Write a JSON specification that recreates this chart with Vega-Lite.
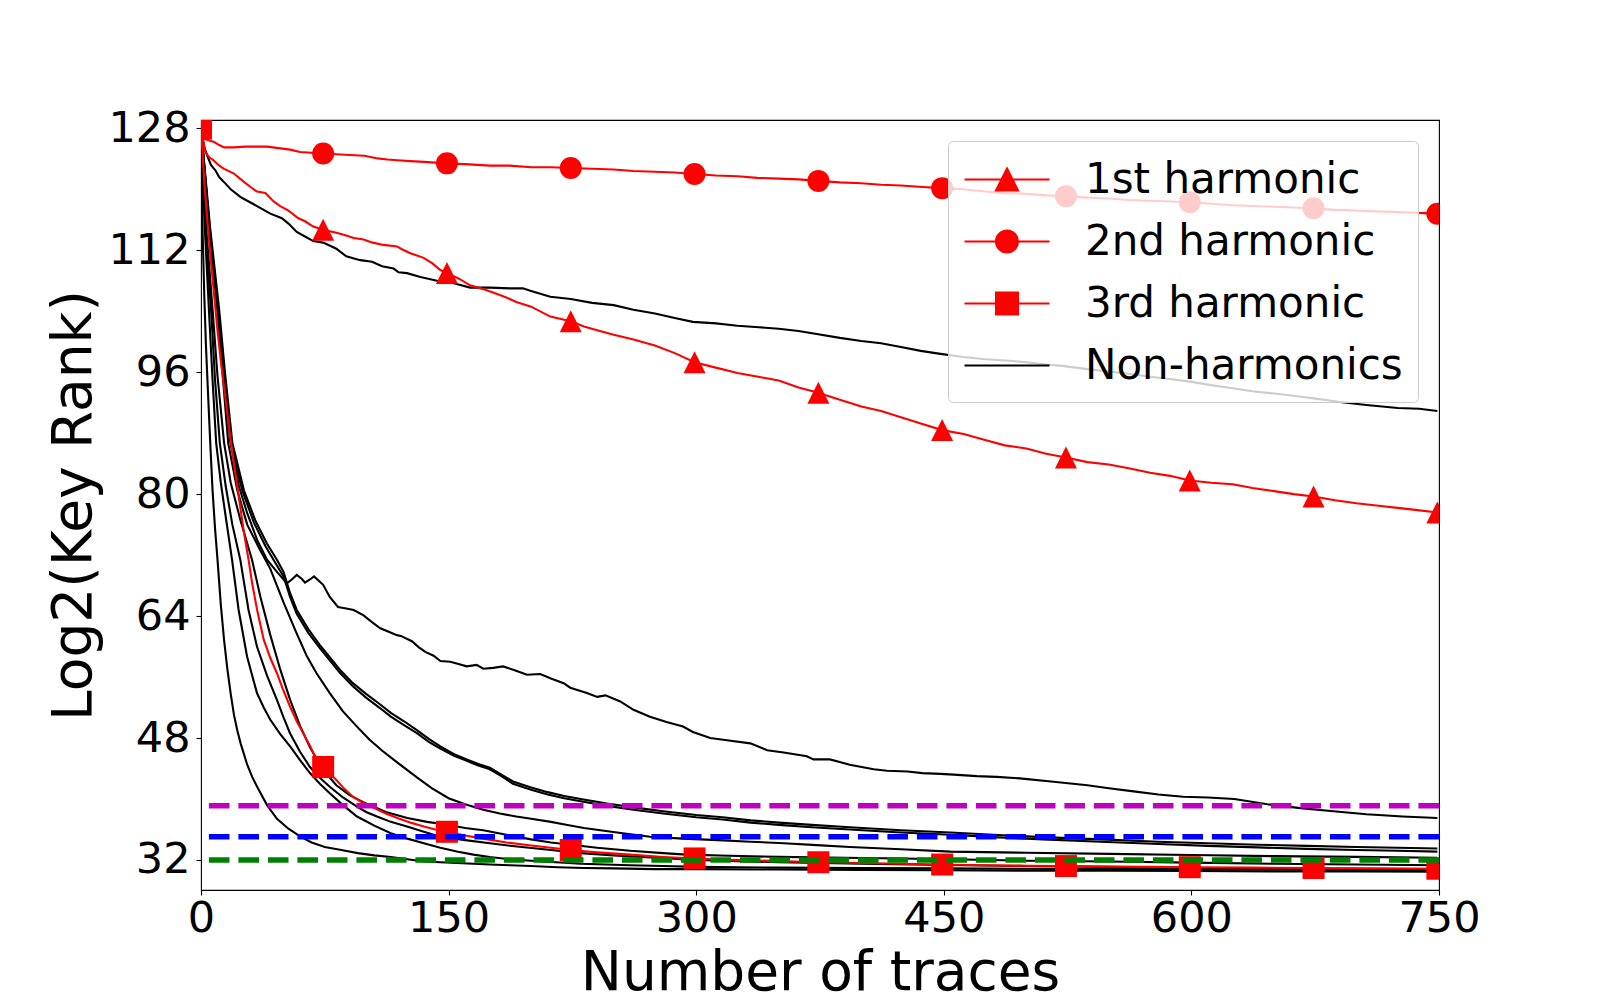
{
  "$schema": "https://vega.github.io/schema/vega-lite/v6.json",
  "width": 1238,
  "height": 770,
  "autosize": {"type": "none"},
  "padding": {"left": 201, "top": 120, "right": 161, "bottom": 110},
  "background": "white",
  "config": {
    "font": "DejaVu Sans",
    "view": {"stroke": "black", "strokeWidth": 1.1},
    "axis": {
      "domain": false,
      "grid": false,
      "tickColor": "black",
      "tickWidth": 1.1,
      "tickSize": 5,
      "labelColor": "black",
      "labelFont": "DejaVu Sans",
      "labelFontSize": 43,
      "titleFont": "DejaVu Sans",
      "titleFontSize": 55,
      "titleFontWeight": "normal",
      "titleColor": "black",
      "labelFlush": false,
      "labelOverlap": false,
      "labelBound": false
    }
  },
  "datasets": {
    "levels": [
      {"k": "upper", "y": 39.1},
      {"k": "middle", "y": 35.05},
      {"k": "lower", "y": 32.0}
    ],
    "curves": [
      {"s":"T","t":"Non-harmonics","x":0,"y":128},{"s":"T","t":"Non-harmonics","x":2,"y":125.5},{"s":"T","t":"Non-harmonics","x":4,"y":124.3},{"s":"T","t":"Non-harmonics","x":6,"y":123.2},{"s":"T","t":"Non-harmonics","x":8.7,"y":122.5},{"s":"T","t":"Non-harmonics","x":11,"y":121.6},{"s":"T","t":"Non-harmonics","x":13.7,"y":121.0},{"s":"T","t":"Non-harmonics","x":18,"y":120.0},{"s":"T","t":"Non-harmonics","x":23.8,"y":119.0},{"s":"T","t":"Non-harmonics","x":28,"y":118.5},{"s":"T","t":"Non-harmonics","x":33.9,"y":117.8},{"s":"T","t":"Non-harmonics","x":38,"y":117.3},{"s":"T","t":"Non-harmonics","x":42,"y":116.8},{"s":"T","t":"Non-harmonics","x":49,"y":116.2},{"s":"T","t":"Non-harmonics","x":53,"y":115.5},{"s":"T","t":"Non-harmonics","x":58,"y":114.4},{"s":"T","t":"Non-harmonics","x":63,"y":113.8},{"s":"T","t":"Non-harmonics","x":68,"y":113.2},{"s":"T","t":"Non-harmonics","x":74,"y":113.0},{"s":"T","t":"Non-harmonics","x":82,"y":112.2},{"s":"T","t":"Non-harmonics","x":88,"y":111.2},{"s":"T","t":"Non-harmonics","x":96.5,"y":110.7},{"s":"T","t":"Non-harmonics","x":103.6,"y":110.5},{"s":"T","t":"Non-harmonics","x":109.7,"y":109.9},{"s":"T","t":"Non-harmonics","x":116.7,"y":109.6},{"s":"T","t":"Non-harmonics","x":119.7,"y":109.1},{"s":"T","t":"Non-harmonics","x":124.8,"y":109.0},{"s":"T","t":"Non-harmonics","x":132.9,"y":108.5},{"s":"T","t":"Non-harmonics","x":143,"y":108.0},{"s":"T","t":"Non-harmonics","x":149,"y":107.9},{"s":"T","t":"Non-harmonics","x":156,"y":107.5},{"s":"T","t":"Non-harmonics","x":163,"y":107.1},{"s":"T","t":"Non-harmonics","x":175,"y":107.1},{"s":"T","t":"Non-harmonics","x":187,"y":107.0},{"s":"T","t":"Non-harmonics","x":195,"y":107.0},{"s":"T","t":"Non-harmonics","x":199.5,"y":106.7},{"s":"T","t":"Non-harmonics","x":211.6,"y":105.9},{"s":"T","t":"Non-harmonics","x":224,"y":105.6},{"s":"T","t":"Non-harmonics","x":237,"y":105.1},{"s":"T","t":"Non-harmonics","x":250,"y":104.8},{"s":"T","t":"Non-harmonics","x":262,"y":104.2},{"s":"T","t":"Non-harmonics","x":275,"y":103.7},{"s":"T","t":"Non-harmonics","x":287,"y":103.1},{"s":"T","t":"Non-harmonics","x":298,"y":102.6},{"s":"T","t":"Non-harmonics","x":312,"y":102.4},{"s":"T","t":"Non-harmonics","x":325,"y":102.1},{"s":"T","t":"Non-harmonics","x":338,"y":101.9},{"s":"T","t":"Non-harmonics","x":350,"y":101.7},{"s":"T","t":"Non-harmonics","x":362,"y":101.4},{"s":"T","t":"Non-harmonics","x":373,"y":101.0},{"s":"T","t":"Non-harmonics","x":387,"y":100.5},{"s":"T","t":"Non-harmonics","x":400,"y":100.1},{"s":"T","t":"Non-harmonics","x":412,"y":99.8},{"s":"T","t":"Non-harmonics","x":424,"y":99.3},{"s":"T","t":"Non-harmonics","x":436,"y":98.8},{"s":"T","t":"Non-harmonics","x":448,"y":98.4},{"s":"T","t":"Non-harmonics","x":462,"y":98.0},{"s":"T","t":"Non-harmonics","x":475,"y":97.7},{"s":"T","t":"Non-harmonics","x":490,"y":97.5},{"s":"T","t":"Non-harmonics","x":500,"y":97.3},{"s":"T","t":"Non-harmonics","x":512,"y":97.0},{"s":"T","t":"Non-harmonics","x":523,"y":96.8},{"s":"T","t":"Non-harmonics","x":537,"y":96.4},{"s":"T","t":"Non-harmonics","x":550,"y":96.1},{"s":"T","t":"Non-harmonics","x":562,"y":95.8},{"s":"T","t":"Non-harmonics","x":575,"y":95.4},{"s":"T","t":"Non-harmonics","x":587,"y":95.1},{"s":"T","t":"Non-harmonics","x":598,"y":94.8},{"s":"T","t":"Non-harmonics","x":612,"y":94.3},{"s":"T","t":"Non-harmonics","x":625,"y":93.9},{"s":"T","t":"Non-harmonics","x":637,"y":93.5},{"s":"T","t":"Non-harmonics","x":650,"y":93.2},{"s":"T","t":"Non-harmonics","x":662,"y":92.9},{"s":"T","t":"Non-harmonics","x":673,"y":92.6},{"s":"T","t":"Non-harmonics","x":690,"y":92.1},{"s":"T","t":"Non-harmonics","x":706,"y":91.7},{"s":"T","t":"Non-harmonics","x":725,"y":91.3},{"s":"T","t":"Non-harmonics","x":738,"y":91.2},{"s":"T","t":"Non-harmonics","x":749,"y":90.9},
      {"s":"a","t":"Non-harmonics","x":0,"y":128},{"s":"a","t":"Non-harmonics","x":1,"y":114},{"s":"a","t":"Non-harmonics","x":2,"y":106},{"s":"a","t":"Non-harmonics","x":3,"y":99.5},{"s":"a","t":"Non-harmonics","x":4,"y":94.5},{"s":"a","t":"Non-harmonics","x":5.6,"y":86.7},{"s":"a","t":"Non-harmonics","x":7,"y":80.5},{"s":"a","t":"Non-harmonics","x":8.5,"y":75.5},{"s":"a","t":"Non-harmonics","x":10,"y":71.4},{"s":"a","t":"Non-harmonics","x":12,"y":65.5},{"s":"a","t":"Non-harmonics","x":14,"y":60.8},{"s":"a","t":"Non-harmonics","x":16,"y":57},{"s":"a","t":"Non-harmonics","x":18,"y":53.8},{"s":"a","t":"Non-harmonics","x":20,"y":51},{"s":"a","t":"Non-harmonics","x":22,"y":49},{"s":"a","t":"Non-harmonics","x":24,"y":47.3},{"s":"a","t":"Non-harmonics","x":28,"y":44.5},{"s":"a","t":"Non-harmonics","x":31,"y":42.9},{"s":"a","t":"Non-harmonics","x":34,"y":41.6},{"s":"a","t":"Non-harmonics","x":40,"y":39.2},{"s":"a","t":"Non-harmonics","x":46,"y":37.4},{"s":"a","t":"Non-harmonics","x":53,"y":36.1},{"s":"a","t":"Non-harmonics","x":60,"y":35.1},{"s":"a","t":"Non-harmonics","x":67,"y":34.3},{"s":"a","t":"Non-harmonics","x":75,"y":33.7},{"s":"a","t":"Non-harmonics","x":85,"y":33.3},{"s":"a","t":"Non-harmonics","x":95,"y":32.9},{"s":"a","t":"Non-harmonics","x":105,"y":32.6},{"s":"a","t":"Non-harmonics","x":115,"y":32.4},{"s":"a","t":"Non-harmonics","x":125,"y":32.1},{"s":"a","t":"Non-harmonics","x":135,"y":31.8},{"s":"a","t":"Non-harmonics","x":145,"y":31.7},{"s":"a","t":"Non-harmonics","x":155,"y":31.6},{"s":"a","t":"Non-harmonics","x":165,"y":31.5},{"s":"a","t":"Non-harmonics","x":175,"y":31.4},{"s":"a","t":"Non-harmonics","x":187,"y":31.3},{"s":"a","t":"Non-harmonics","x":200,"y":31.2},{"s":"a","t":"Non-harmonics","x":216,"y":31.05},{"s":"a","t":"Non-harmonics","x":232,"y":30.95},{"s":"a","t":"Non-harmonics","x":250,"y":30.9},{"s":"a","t":"Non-harmonics","x":275,"y":30.8},{"s":"a","t":"Non-harmonics","x":300,"y":30.8},{"s":"a","t":"Non-harmonics","x":350,"y":30.75},{"s":"a","t":"Non-harmonics","x":400,"y":30.7},{"s":"a","t":"Non-harmonics","x":450,"y":30.65},{"s":"a","t":"Non-harmonics","x":500,"y":30.6},{"s":"a","t":"Non-harmonics","x":550,"y":30.6},{"s":"a","t":"Non-harmonics","x":600,"y":30.55},{"s":"a","t":"Non-harmonics","x":650,"y":30.5},{"s":"a","t":"Non-harmonics","x":700,"y":30.5},{"s":"a","t":"Non-harmonics","x":749,"y":30.45},
      {"s":"b","t":"Non-harmonics","x":0,"y":128},{"s":"b","t":"Non-harmonics","x":2.4,"y":114.5},{"s":"b","t":"Non-harmonics","x":4.8,"y":104.2},{"s":"b","t":"Non-harmonics","x":7,"y":95},{"s":"b","t":"Non-harmonics","x":9.2,"y":86.7},{"s":"b","t":"Non-harmonics","x":12,"y":81.5},{"s":"b","t":"Non-harmonics","x":15,"y":77},{"s":"b","t":"Non-harmonics","x":18.8,"y":71.4},{"s":"b","t":"Non-harmonics","x":22.8,"y":64.8},{"s":"b","t":"Non-harmonics","x":27.9,"y":58.7},{"s":"b","t":"Non-harmonics","x":33.9,"y":53.9},{"s":"b","t":"Non-harmonics","x":38,"y":52},{"s":"b","t":"Non-harmonics","x":42,"y":50.4},{"s":"b","t":"Non-harmonics","x":48,"y":48.5},{"s":"b","t":"Non-harmonics","x":54,"y":46.9},{"s":"b","t":"Non-harmonics","x":60,"y":45.1},{"s":"b","t":"Non-harmonics","x":66,"y":43.4},{"s":"b","t":"Non-harmonics","x":72,"y":42},{"s":"b","t":"Non-harmonics","x":78,"y":40.75},{"s":"b","t":"Non-harmonics","x":86,"y":39.2},{"s":"b","t":"Non-harmonics","x":94.5,"y":37.7},{"s":"b","t":"Non-harmonics","x":105,"y":36.5},{"s":"b","t":"Non-harmonics","x":115,"y":35.5},{"s":"b","t":"Non-harmonics","x":125,"y":34.8},{"s":"b","t":"Non-harmonics","x":135,"y":34.2},{"s":"b","t":"Non-harmonics","x":145,"y":33.6},{"s":"b","t":"Non-harmonics","x":155,"y":33.1},{"s":"b","t":"Non-harmonics","x":165,"y":32.7},{"s":"b","t":"Non-harmonics","x":175,"y":32.4},{"s":"b","t":"Non-harmonics","x":187,"y":32.1},{"s":"b","t":"Non-harmonics","x":200,"y":31.9},{"s":"b","t":"Non-harmonics","x":215,"y":31.7},{"s":"b","t":"Non-harmonics","x":230,"y":31.5},{"s":"b","t":"Non-harmonics","x":245,"y":31.4},{"s":"b","t":"Non-harmonics","x":260,"y":31.3},{"s":"b","t":"Non-harmonics","x":280,"y":31.2},{"s":"b","t":"Non-harmonics","x":300,"y":31.1},{"s":"b","t":"Non-harmonics","x":350,"y":31.0},{"s":"b","t":"Non-harmonics","x":400,"y":30.95},{"s":"b","t":"Non-harmonics","x":450,"y":30.9},{"s":"b","t":"Non-harmonics","x":500,"y":30.85},{"s":"b","t":"Non-harmonics","x":550,"y":30.8},{"s":"b","t":"Non-harmonics","x":600,"y":30.8},{"s":"b","t":"Non-harmonics","x":650,"y":30.75},{"s":"b","t":"Non-harmonics","x":700,"y":30.7},{"s":"b","t":"Non-harmonics","x":749,"y":30.7},
      {"s":"c","t":"Non-harmonics","x":0,"y":128},{"s":"c","t":"Non-harmonics","x":3,"y":113.5},{"s":"c","t":"Non-harmonics","x":6.1,"y":104.2},{"s":"c","t":"Non-harmonics","x":8.5,"y":95},{"s":"c","t":"Non-harmonics","x":11.4,"y":86.7},{"s":"c","t":"Non-harmonics","x":15,"y":81},{"s":"c","t":"Non-harmonics","x":19,"y":76},{"s":"c","t":"Non-harmonics","x":23.8,"y":71.4},{"s":"c","t":"Non-harmonics","x":28.8,"y":64.8},{"s":"c","t":"Non-harmonics","x":33.9,"y":60},{"s":"c","t":"Non-harmonics","x":40,"y":56.2},{"s":"c","t":"Non-harmonics","x":46,"y":53},{"s":"c","t":"Non-harmonics","x":50,"y":50.7},{"s":"c","t":"Non-harmonics","x":54,"y":48.6},{"s":"c","t":"Non-harmonics","x":60,"y":46.2},{"s":"c","t":"Non-harmonics","x":66,"y":44.2},{"s":"c","t":"Non-harmonics","x":72,"y":42.8},{"s":"c","t":"Non-harmonics","x":78,"y":41.6},{"s":"c","t":"Non-harmonics","x":86,"y":40.2},{"s":"c","t":"Non-harmonics","x":94.5,"y":39.0},{"s":"c","t":"Non-harmonics","x":100,"y":38.3},{"s":"c","t":"Non-harmonics","x":106.6,"y":37.7},{"s":"c","t":"Non-harmonics","x":115,"y":37.0},{"s":"c","t":"Non-harmonics","x":124.8,"y":36.4},{"s":"c","t":"Non-harmonics","x":135,"y":35.7},{"s":"c","t":"Non-harmonics","x":145,"y":35.05},{"s":"c","t":"Non-harmonics","x":160,"y":34.6},{"s":"c","t":"Non-harmonics","x":175,"y":34.2},{"s":"c","t":"Non-harmonics","x":190,"y":33.8},{"s":"c","t":"Non-harmonics","x":212,"y":33.3},{"s":"c","t":"Non-harmonics","x":230,"y":32.9},{"s":"c","t":"Non-harmonics","x":250,"y":32.6},{"s":"c","t":"Non-harmonics","x":275,"y":32.3},{"s":"c","t":"Non-harmonics","x":300,"y":32.0},{"s":"c","t":"Non-harmonics","x":325,"y":31.85},{"s":"c","t":"Non-harmonics","x":350,"y":31.7},{"s":"c","t":"Non-harmonics","x":400,"y":31.5},{"s":"c","t":"Non-harmonics","x":450,"y":31.35},{"s":"c","t":"Non-harmonics","x":500,"y":31.2},{"s":"c","t":"Non-harmonics","x":550,"y":31.1},{"s":"c","t":"Non-harmonics","x":600,"y":30.95},{"s":"c","t":"Non-harmonics","x":650,"y":30.85},{"s":"c","t":"Non-harmonics","x":700,"y":30.8},{"s":"c","t":"Non-harmonics","x":749,"y":30.75},
      {"s":"g","t":"Non-harmonics","x":0,"y":128},{"s":"g","t":"Non-harmonics","x":3.5,"y":114},{"s":"g","t":"Non-harmonics","x":7,"y":104.2},{"s":"g","t":"Non-harmonics","x":10,"y":95.5},{"s":"g","t":"Non-harmonics","x":14,"y":86.7},{"s":"g","t":"Non-harmonics","x":18,"y":81.5},{"s":"g","t":"Non-harmonics","x":24,"y":76.5},{"s":"g","t":"Non-harmonics","x":30.9,"y":71.4},{"s":"g","t":"Non-harmonics","x":36,"y":66.5},{"s":"g","t":"Non-harmonics","x":42,"y":61.5},{"s":"g","t":"Non-harmonics","x":48,"y":57},{"s":"g","t":"Non-harmonics","x":54,"y":53},{"s":"g","t":"Non-harmonics","x":60,"y":49.6},{"s":"g","t":"Non-harmonics","x":66,"y":46.8},{"s":"g","t":"Non-harmonics","x":74,"y":43.8},{"s":"g","t":"Non-harmonics","x":82,"y":41.8},{"s":"g","t":"Non-harmonics","x":90,"y":40.5},{"s":"g","t":"Non-harmonics","x":100,"y":39.4},{"s":"g","t":"Non-harmonics","x":112,"y":38.3},{"s":"g","t":"Non-harmonics","x":125,"y":37.5},{"s":"g","t":"Non-harmonics","x":137,"y":37.0},{"s":"g","t":"Non-harmonics","x":150,"y":36.6},{"s":"g","t":"Non-harmonics","x":160,"y":36.2},{"s":"g","t":"Non-harmonics","x":171,"y":35.9},{"s":"g","t":"Non-harmonics","x":185,"y":35.3},{"s":"g","t":"Non-harmonics","x":200,"y":34.7},{"s":"g","t":"Non-harmonics","x":212,"y":34.3},{"s":"g","t":"Non-harmonics","x":224,"y":34.0},{"s":"g","t":"Non-harmonics","x":240,"y":33.6},{"s":"g","t":"Non-harmonics","x":260,"y":33.2},{"s":"g","t":"Non-harmonics","x":280,"y":32.9},{"s":"g","t":"Non-harmonics","x":294,"y":32.7},{"s":"g","t":"Non-harmonics","x":320,"y":32.55},{"s":"g","t":"Non-harmonics","x":350,"y":32.4},{"s":"g","t":"Non-harmonics","x":390,"y":32.3},{"s":"g","t":"Non-harmonics","x":424,"y":32.2},{"s":"g","t":"Non-harmonics","x":454,"y":32.1},{"s":"g","t":"Non-harmonics","x":500,"y":31.9},{"s":"g","t":"Non-harmonics","x":550,"y":31.8},{"s":"g","t":"Non-harmonics","x":600,"y":31.65},{"s":"g","t":"Non-harmonics","x":650,"y":31.5},{"s":"g","t":"Non-harmonics","x":700,"y":31.4},{"s":"g","t":"Non-harmonics","x":749,"y":31.3},
      {"s":"d","t":"Non-harmonics","x":0,"y":128},{"s":"d","t":"Non-harmonics","x":5,"y":115},{"s":"d","t":"Non-harmonics","x":10,"y":104.2},{"s":"d","t":"Non-harmonics","x":13,"y":96},{"s":"d","t":"Non-harmonics","x":16.5,"y":86.7},{"s":"d","t":"Non-harmonics","x":22,"y":80.5},{"s":"d","t":"Non-harmonics","x":28,"y":76},{"s":"d","t":"Non-harmonics","x":35,"y":73},{"s":"d","t":"Non-harmonics","x":42,"y":70.2},{"s":"d","t":"Non-harmonics","x":50,"y":65.8},{"s":"d","t":"Non-harmonics","x":58,"y":61.7},{"s":"d","t":"Non-harmonics","x":64,"y":58.8},{"s":"d","t":"Non-harmonics","x":70,"y":56.5},{"s":"d","t":"Non-harmonics","x":78,"y":53.9},{"s":"d","t":"Non-harmonics","x":86,"y":51.5},{"s":"d","t":"Non-harmonics","x":94.5,"y":49.5},{"s":"d","t":"Non-harmonics","x":102,"y":47.8},{"s":"d","t":"Non-harmonics","x":110,"y":46.3},{"s":"d","t":"Non-harmonics","x":120,"y":44.6},{"s":"d","t":"Non-harmonics","x":131,"y":42.8},{"s":"d","t":"Non-harmonics","x":140,"y":41.4},{"s":"d","t":"Non-harmonics","x":150,"y":40.1},{"s":"d","t":"Non-harmonics","x":160,"y":39.3},{"s":"d","t":"Non-harmonics","x":171,"y":38.6},{"s":"d","t":"Non-harmonics","x":181,"y":38.1},{"s":"d","t":"Non-harmonics","x":191,"y":37.7},{"s":"d","t":"Non-harmonics","x":200,"y":37.4},{"s":"d","t":"Non-harmonics","x":212,"y":37.0},{"s":"d","t":"Non-harmonics","x":222,"y":36.6},{"s":"d","t":"Non-harmonics","x":232,"y":36.2},{"s":"d","t":"Non-harmonics","x":252,"y":35.6},{"s":"d","t":"Non-harmonics","x":272,"y":35.05},{"s":"d","t":"Non-harmonics","x":292,"y":34.8},{"s":"d","t":"Non-harmonics","x":313,"y":34.6},{"s":"d","t":"Non-harmonics","x":333,"y":34.4},{"s":"d","t":"Non-harmonics","x":353,"y":34.2},{"s":"d","t":"Non-harmonics","x":373,"y":33.95},{"s":"d","t":"Non-harmonics","x":393,"y":33.7},{"s":"d","t":"Non-harmonics","x":424,"y":33.4},{"s":"d","t":"Non-harmonics","x":454,"y":33.1},{"s":"d","t":"Non-harmonics","x":500,"y":32.95},{"s":"d","t":"Non-harmonics","x":550,"y":32.8},{"s":"d","t":"Non-harmonics","x":600,"y":32.65},{"s":"d","t":"Non-harmonics","x":650,"y":32.5},{"s":"d","t":"Non-harmonics","x":700,"y":32.4},{"s":"d","t":"Non-harmonics","x":749,"y":32.3},
      {"s":"e","t":"Non-harmonics","x":0,"y":128},{"s":"e","t":"Non-harmonics","x":5.5,"y":115},{"s":"e","t":"Non-harmonics","x":11,"y":104.2},{"s":"e","t":"Non-harmonics","x":14.5,"y":96},{"s":"e","t":"Non-harmonics","x":19,"y":86.7},{"s":"e","t":"Non-harmonics","x":26,"y":80.5},{"s":"e","t":"Non-harmonics","x":33,"y":76.5},{"s":"e","t":"Non-harmonics","x":40,"y":73.5},{"s":"e","t":"Non-harmonics","x":46,"y":71.4},{"s":"e","t":"Non-harmonics","x":50,"y":69.8},{"s":"e","t":"Non-harmonics","x":54,"y":67},{"s":"e","t":"Non-harmonics","x":58,"y":64.8},{"s":"e","t":"Non-harmonics","x":65,"y":62.3},{"s":"e","t":"Non-harmonics","x":72,"y":60.2},{"s":"e","t":"Non-harmonics","x":78,"y":58.6},{"s":"e","t":"Non-harmonics","x":84,"y":57.0},{"s":"e","t":"Non-harmonics","x":92,"y":55.2},{"s":"e","t":"Non-harmonics","x":100,"y":53.8},{"s":"e","t":"Non-harmonics","x":108,"y":52.5},{"s":"e","t":"Non-harmonics","x":115,"y":51.3},{"s":"e","t":"Non-harmonics","x":123,"y":50.2},{"s":"e","t":"Non-harmonics","x":131,"y":49.0},{"s":"e","t":"Non-harmonics","x":138,"y":47.9},{"s":"e","t":"Non-harmonics","x":145,"y":46.9},{"s":"e","t":"Non-harmonics","x":153,"y":45.9},{"s":"e","t":"Non-harmonics","x":161,"y":45.2},{"s":"e","t":"Non-harmonics","x":168,"y":44.6},{"s":"e","t":"Non-harmonics","x":175,"y":44.1},{"s":"e","t":"Non-harmonics","x":182,"y":43.2},{"s":"e","t":"Non-harmonics","x":189,"y":42.3},{"s":"e","t":"Non-harmonics","x":200,"y":41.5},{"s":"e","t":"Non-harmonics","x":210,"y":40.9},{"s":"e","t":"Non-harmonics","x":220,"y":40.4},{"s":"e","t":"Non-harmonics","x":230,"y":40.0},{"s":"e","t":"Non-harmonics","x":246,"y":39.4},{"s":"e","t":"Non-harmonics","x":262,"y":38.9},{"s":"e","t":"Non-harmonics","x":280,"y":38.4},{"s":"e","t":"Non-harmonics","x":300,"y":37.9},{"s":"e","t":"Non-harmonics","x":316,"y":37.6},{"s":"e","t":"Non-harmonics","x":333,"y":37.2},{"s":"e","t":"Non-harmonics","x":350,"y":36.9},{"s":"e","t":"Non-harmonics","x":370,"y":36.6},{"s":"e","t":"Non-harmonics","x":393,"y":36.3},{"s":"e","t":"Non-harmonics","x":424,"y":35.9},{"s":"e","t":"Non-harmonics","x":454,"y":35.6},{"s":"e","t":"Non-harmonics","x":480,"y":35.3},{"s":"e","t":"Non-harmonics","x":510,"y":35.0},{"s":"e","t":"Non-harmonics","x":545,"y":34.7},{"s":"e","t":"Non-harmonics","x":580,"y":34.4},{"s":"e","t":"Non-harmonics","x":610,"y":34.2},{"s":"e","t":"Non-harmonics","x":640,"y":34.0},{"s":"e","t":"Non-harmonics","x":670,"y":33.85},{"s":"e","t":"Non-harmonics","x":700,"y":33.7},{"s":"e","t":"Non-harmonics","x":725,"y":33.6},{"s":"e","t":"Non-harmonics","x":749,"y":33.5},
      {"s":"f","t":"Non-harmonics","x":0,"y":128},{"s":"f","t":"Non-harmonics","x":5.2,"y":115},{"s":"f","t":"Non-harmonics","x":10.5,"y":104.2},{"s":"f","t":"Non-harmonics","x":14,"y":96},{"s":"f","t":"Non-harmonics","x":18,"y":86.7},{"s":"f","t":"Non-harmonics","x":25,"y":80.5},{"s":"f","t":"Non-harmonics","x":32,"y":76.3},{"s":"f","t":"Non-harmonics","x":39,"y":73.2},{"s":"f","t":"Non-harmonics","x":45,"y":71.0},{"s":"f","t":"Non-harmonics","x":50,"y":69.2},{"s":"f","t":"Non-harmonics","x":54,"y":66.5},{"s":"f","t":"Non-harmonics","x":58,"y":64.3},{"s":"f","t":"Non-harmonics","x":65,"y":61.8},{"s":"f","t":"Non-harmonics","x":72,"y":59.8},{"s":"f","t":"Non-harmonics","x":78,"y":58.2},{"s":"f","t":"Non-harmonics","x":84,"y":56.6},{"s":"f","t":"Non-harmonics","x":92,"y":54.8},{"s":"f","t":"Non-harmonics","x":100,"y":53.3},{"s":"f","t":"Non-harmonics","x":108,"y":52.0},{"s":"f","t":"Non-harmonics","x":115,"y":50.8},{"s":"f","t":"Non-harmonics","x":123,"y":49.7},{"s":"f","t":"Non-harmonics","x":131,"y":48.6},{"s":"f","t":"Non-harmonics","x":138,"y":47.5},{"s":"f","t":"Non-harmonics","x":145,"y":46.6},{"s":"f","t":"Non-harmonics","x":153,"y":45.7},{"s":"f","t":"Non-harmonics","x":161,"y":45.0},{"s":"f","t":"Non-harmonics","x":168,"y":44.4},{"s":"f","t":"Non-harmonics","x":175,"y":43.9},{"s":"f","t":"Non-harmonics","x":182,"y":43.0},{"s":"f","t":"Non-harmonics","x":189,"y":42.0},{"s":"f","t":"Non-harmonics","x":200,"y":41.2},{"s":"f","t":"Non-harmonics","x":210,"y":40.6},{"s":"f","t":"Non-harmonics","x":220,"y":40.1},{"s":"f","t":"Non-harmonics","x":230,"y":39.7},{"s":"f","t":"Non-harmonics","x":246,"y":39.1},{"s":"f","t":"Non-harmonics","x":262,"y":38.6},{"s":"f","t":"Non-harmonics","x":280,"y":38.1},{"s":"f","t":"Non-harmonics","x":300,"y":37.6},{"s":"f","t":"Non-harmonics","x":316,"y":37.3},{"s":"f","t":"Non-harmonics","x":333,"y":36.9},{"s":"f","t":"Non-harmonics","x":350,"y":36.6},{"s":"f","t":"Non-harmonics","x":370,"y":36.3},{"s":"f","t":"Non-harmonics","x":393,"y":36.0},{"s":"f","t":"Non-harmonics","x":424,"y":35.6},{"s":"f","t":"Non-harmonics","x":454,"y":35.3},{"s":"f","t":"Non-harmonics","x":480,"y":35.0},{"s":"f","t":"Non-harmonics","x":510,"y":34.7},{"s":"f","t":"Non-harmonics","x":545,"y":34.4},{"s":"f","t":"Non-harmonics","x":580,"y":34.1},{"s":"f","t":"Non-harmonics","x":610,"y":33.85},{"s":"f","t":"Non-harmonics","x":640,"y":33.65},{"s":"f","t":"Non-harmonics","x":670,"y":33.45},{"s":"f","t":"Non-harmonics","x":700,"y":33.3},{"s":"f","t":"Non-harmonics","x":725,"y":33.2},{"s":"f","t":"Non-harmonics","x":749,"y":33.1},
      {"s":"p","t":"Non-harmonics","x":0,"y":128},{"s":"p","t":"Non-harmonics","x":5,"y":115},{"s":"p","t":"Non-harmonics","x":10,"y":104.2},{"s":"p","t":"Non-harmonics","x":13.5,"y":96},{"s":"p","t":"Non-harmonics","x":18,"y":86.7},{"s":"p","t":"Non-harmonics","x":23,"y":81},{"s":"p","t":"Non-harmonics","x":28,"y":77.5},{"s":"p","t":"Non-harmonics","x":34,"y":74},{"s":"p","t":"Non-harmonics","x":40,"y":71.4},{"s":"p","t":"Non-harmonics","x":46,"y":69.8},{"s":"p","t":"Non-harmonics","x":52,"y":68.3},{"s":"p","t":"Non-harmonics","x":55,"y":68.8},{"s":"p","t":"Non-harmonics","x":58,"y":69.4},{"s":"p","t":"Non-harmonics","x":61,"y":68.9},{"s":"p","t":"Non-harmonics","x":63,"y":68.4},{"s":"p","t":"Non-harmonics","x":66,"y":68.8},{"s":"p","t":"Non-harmonics","x":68.5,"y":69.2},{"s":"p","t":"Non-harmonics","x":71,"y":68.7},{"s":"p","t":"Non-harmonics","x":74,"y":68.1},{"s":"p","t":"Non-harmonics","x":78,"y":66.5},{"s":"p","t":"Non-harmonics","x":83,"y":65.2},{"s":"p","t":"Non-harmonics","x":88,"y":65.0},{"s":"p","t":"Non-harmonics","x":92.5,"y":64.8},{"s":"p","t":"Non-harmonics","x":98.5,"y":64.1},{"s":"p","t":"Non-harmonics","x":103,"y":63.3},{"s":"p","t":"Non-harmonics","x":108.6,"y":62.4},{"s":"p","t":"Non-harmonics","x":113,"y":62.0},{"s":"p","t":"Non-harmonics","x":118.7,"y":61.5},{"s":"p","t":"Non-harmonics","x":121,"y":61.4},{"s":"p","t":"Non-harmonics","x":127.8,"y":60.7},{"s":"p","t":"Non-harmonics","x":132,"y":59.9},{"s":"p","t":"Non-harmonics","x":135.9,"y":59.3},{"s":"p","t":"Non-harmonics","x":140.9,"y":58.8},{"s":"p","t":"Non-harmonics","x":145,"y":58.1},{"s":"p","t":"Non-harmonics","x":151,"y":58.0},{"s":"p","t":"Non-harmonics","x":156,"y":57.7},{"s":"p","t":"Non-harmonics","x":161,"y":57.4},{"s":"p","t":"Non-harmonics","x":167,"y":57.6},{"s":"p","t":"Non-harmonics","x":171,"y":57.1},{"s":"p","t":"Non-harmonics","x":177,"y":57.2},{"s":"p","t":"Non-harmonics","x":183,"y":57.4},{"s":"p","t":"Non-harmonics","x":190,"y":56.9},{"s":"p","t":"Non-harmonics","x":197.5,"y":56.3},{"s":"p","t":"Non-harmonics","x":205.5,"y":56.4},{"s":"p","t":"Non-harmonics","x":212,"y":55.8},{"s":"p","t":"Non-harmonics","x":219.7,"y":55.2},{"s":"p","t":"Non-harmonics","x":223.7,"y":54.6},{"s":"p","t":"Non-harmonics","x":233.8,"y":53.9},{"s":"p","t":"Non-harmonics","x":240,"y":53.4},{"s":"p","t":"Non-harmonics","x":245,"y":53.6},{"s":"p","t":"Non-harmonics","x":254,"y":52.8},{"s":"p","t":"Non-harmonics","x":262,"y":51.7},{"s":"p","t":"Non-harmonics","x":272,"y":50.8},{"s":"p","t":"Non-harmonics","x":282,"y":50.1},{"s":"p","t":"Non-harmonics","x":292,"y":49.5},{"s":"p","t":"Non-harmonics","x":298,"y":48.8},{"s":"p","t":"Non-harmonics","x":308.5,"y":48.0},{"s":"p","t":"Non-harmonics","x":318.6,"y":47.7},{"s":"p","t":"Non-harmonics","x":332.8,"y":47.3},{"s":"p","t":"Non-harmonics","x":343,"y":46.4},{"s":"p","t":"Non-harmonics","x":353,"y":46.1},{"s":"p","t":"Non-harmonics","x":367,"y":45.6},{"s":"p","t":"Non-harmonics","x":371,"y":45.2},{"s":"p","t":"Non-harmonics","x":381,"y":45.2},{"s":"p","t":"Non-harmonics","x":393,"y":44.5},{"s":"p","t":"Non-harmonics","x":407.5,"y":43.9},{"s":"p","t":"Non-harmonics","x":415.6,"y":43.7},{"s":"p","t":"Non-harmonics","x":428,"y":43.6},{"s":"p","t":"Non-harmonics","x":437,"y":43.4},{"s":"p","t":"Non-harmonics","x":448,"y":43.3},{"s":"p","t":"Non-harmonics","x":456,"y":43.2},{"s":"p","t":"Non-harmonics","x":470,"y":43.0},{"s":"p","t":"Non-harmonics","x":482,"y":42.9},{"s":"p","t":"Non-harmonics","x":496,"y":42.7},{"s":"p","t":"Non-harmonics","x":515,"y":42.3},{"s":"p","t":"Non-harmonics","x":537,"y":41.8},{"s":"p","t":"Non-harmonics","x":550,"y":41.4},{"s":"p","t":"Non-harmonics","x":565,"y":41.0},{"s":"p","t":"Non-harmonics","x":580,"y":40.6},{"s":"p","t":"Non-harmonics","x":595,"y":40.3},{"s":"p","t":"Non-harmonics","x":610,"y":40.2},{"s":"p","t":"Non-harmonics","x":626,"y":40.0},{"s":"p","t":"Non-harmonics","x":646,"y":39.3},{"s":"p","t":"Non-harmonics","x":666,"y":38.8},{"s":"p","t":"Non-harmonics","x":686,"y":38.4},{"s":"p","t":"Non-harmonics","x":706,"y":38.0},{"s":"p","t":"Non-harmonics","x":728,"y":37.7},{"s":"p","t":"Non-harmonics","x":749,"y":37.5},
      {"s":"R1","t":"1st harmonic","x":0,"y":128},{"s":"R1","t":"1st harmonic","x":2.6,"y":124.9},{"s":"R1","t":"1st harmonic","x":5,"y":124.2},{"s":"R1","t":"1st harmonic","x":7.6,"y":123.8},{"s":"R1","t":"1st harmonic","x":10.5,"y":123.2},{"s":"R1","t":"1st harmonic","x":13.7,"y":122.7},{"s":"R1","t":"1st harmonic","x":19.7,"y":122.1},{"s":"R1","t":"1st harmonic","x":25.8,"y":121.0},{"s":"R1","t":"1st harmonic","x":30,"y":120.3},{"s":"R1","t":"1st harmonic","x":33.9,"y":119.7},{"s":"R1","t":"1st harmonic","x":39,"y":119.5},{"s":"R1","t":"1st harmonic","x":44,"y":118.4},{"s":"R1","t":"1st harmonic","x":48,"y":117.8},{"s":"R1","t":"1st harmonic","x":53,"y":117.2},{"s":"R1","t":"1st harmonic","x":59,"y":116.2},{"s":"R1","t":"1st harmonic","x":63,"y":115.8},{"s":"R1","t":"1st harmonic","x":68,"y":115.1},{"s":"R1","t":"1st harmonic","x":74,"y":114.7},{"s":"R1","t":"1st harmonic","x":82,"y":114.3},{"s":"R1","t":"1st harmonic","x":87,"y":114.0},{"s":"R1","t":"1st harmonic","x":92.5,"y":113.6},{"s":"R1","t":"1st harmonic","x":98.5,"y":113.4},{"s":"R1","t":"1st harmonic","x":104,"y":113.0},{"s":"R1","t":"1st harmonic","x":110.6,"y":112.7},{"s":"R1","t":"1st harmonic","x":118.7,"y":112.5},{"s":"R1","t":"1st harmonic","x":122,"y":112.1},{"s":"R1","t":"1st harmonic","x":126.8,"y":111.6},{"s":"R1","t":"1st harmonic","x":134.9,"y":111.0},{"s":"R1","t":"1st harmonic","x":140,"y":110.3},{"s":"R1","t":"1st harmonic","x":145,"y":109.4},{"s":"R1","t":"1st harmonic","x":149,"y":109.0},{"s":"R1","t":"1st harmonic","x":156,"y":108.3},{"s":"R1","t":"1st harmonic","x":163,"y":107.4},{"s":"R1","t":"1st harmonic","x":171,"y":106.9},{"s":"R1","t":"1st harmonic","x":179,"y":106.3},{"s":"R1","t":"1st harmonic","x":185,"y":105.8},{"s":"R1","t":"1st harmonic","x":191,"y":105.2},{"s":"R1","t":"1st harmonic","x":200,"y":104.6},{"s":"R1","t":"1st harmonic","x":211.6,"y":103.3},{"s":"R1","t":"1st harmonic","x":224,"y":102.7},{"s":"R1","t":"1st harmonic","x":232,"y":102.0},{"s":"R1","t":"1st harmonic","x":240,"y":101.5},{"s":"R1","t":"1st harmonic","x":250,"y":100.9},{"s":"R1","t":"1st harmonic","x":262,"y":100.3},{"s":"R1","t":"1st harmonic","x":275,"y":99.5},{"s":"R1","t":"1st harmonic","x":287,"y":98.5},{"s":"R1","t":"1st harmonic","x":299,"y":97.3},{"s":"R1","t":"1st harmonic","x":310,"y":96.7},{"s":"R1","t":"1st harmonic","x":325,"y":95.9},{"s":"R1","t":"1st harmonic","x":340,"y":95.3},{"s":"R1","t":"1st harmonic","x":350,"y":94.9},{"s":"R1","t":"1st harmonic","x":362,"y":94.0},{"s":"R1","t":"1st harmonic","x":374,"y":93.3},{"s":"R1","t":"1st harmonic","x":387,"y":92.4},{"s":"R1","t":"1st harmonic","x":400,"y":91.5},{"s":"R1","t":"1st harmonic","x":412,"y":90.9},{"s":"R1","t":"1st harmonic","x":424,"y":90.1},{"s":"R1","t":"1st harmonic","x":437,"y":89.2},{"s":"R1","t":"1st harmonic","x":449,"y":88.4},{"s":"R1","t":"1st harmonic","x":462,"y":87.9},{"s":"R1","t":"1st harmonic","x":475,"y":87.1},{"s":"R1","t":"1st harmonic","x":487,"y":86.4},{"s":"R1","t":"1st harmonic","x":500,"y":86.0},{"s":"R1","t":"1st harmonic","x":512,"y":85.3},{"s":"R1","t":"1st harmonic","x":524,"y":84.8},{"s":"R1","t":"1st harmonic","x":537,"y":84.2},{"s":"R1","t":"1st harmonic","x":550,"y":83.9},{"s":"R1","t":"1st harmonic","x":562,"y":83.4},{"s":"R1","t":"1st harmonic","x":575,"y":82.8},{"s":"R1","t":"1st harmonic","x":587,"y":82.4},{"s":"R1","t":"1st harmonic","x":599,"y":81.8},{"s":"R1","t":"1st harmonic","x":612,"y":81.5},{"s":"R1","t":"1st harmonic","x":625,"y":81.3},{"s":"R1","t":"1st harmonic","x":637,"y":80.8},{"s":"R1","t":"1st harmonic","x":650,"y":80.4},{"s":"R1","t":"1st harmonic","x":662,"y":80.0},{"s":"R1","t":"1st harmonic","x":674,"y":79.7},{"s":"R1","t":"1st harmonic","x":687,"y":79.2},{"s":"R1","t":"1st harmonic","x":700,"y":78.8},{"s":"R1","t":"1st harmonic","x":712,"y":78.5},{"s":"R1","t":"1st harmonic","x":725,"y":78.2},{"s":"R1","t":"1st harmonic","x":737,"y":77.9},{"s":"R1","t":"1st harmonic","x":749,"y":77.6},
      {"s":"R2","t":"2nd harmonic","x":0,"y":128},{"s":"R2","t":"2nd harmonic","x":2,"y":126.6},{"s":"R2","t":"2nd harmonic","x":5,"y":126.4},{"s":"R2","t":"2nd harmonic","x":8,"y":126.2},{"s":"R2","t":"2nd harmonic","x":11,"y":125.8},{"s":"R2","t":"2nd harmonic","x":14,"y":125.5},{"s":"R2","t":"2nd harmonic","x":20,"y":125.5},{"s":"R2","t":"2nd harmonic","x":27,"y":125.6},{"s":"R2","t":"2nd harmonic","x":34,"y":125.6},{"s":"R2","t":"2nd harmonic","x":40,"y":125.6},{"s":"R2","t":"2nd harmonic","x":47,"y":125.4},{"s":"R2","t":"2nd harmonic","x":54,"y":125.2},{"s":"R2","t":"2nd harmonic","x":60,"y":124.9},{"s":"R2","t":"2nd harmonic","x":67,"y":124.8},{"s":"R2","t":"2nd harmonic","x":74,"y":124.7},{"s":"R2","t":"2nd harmonic","x":82,"y":124.6},{"s":"R2","t":"2nd harmonic","x":90,"y":124.5},{"s":"R2","t":"2nd harmonic","x":99,"y":124.4},{"s":"R2","t":"2nd harmonic","x":107,"y":124.05},{"s":"R2","t":"2nd harmonic","x":113,"y":123.9},{"s":"R2","t":"2nd harmonic","x":119,"y":123.8},{"s":"R2","t":"2nd harmonic","x":127,"y":123.7},{"s":"R2","t":"2nd harmonic","x":135,"y":123.6},{"s":"R2","t":"2nd harmonic","x":142,"y":123.5},{"s":"R2","t":"2nd harmonic","x":149,"y":123.4},{"s":"R2","t":"2nd harmonic","x":160,"y":123.3},{"s":"R2","t":"2nd harmonic","x":175,"y":123.1},{"s":"R2","t":"2nd harmonic","x":187,"y":123.1},{"s":"R2","t":"2nd harmonic","x":200,"y":122.9},{"s":"R2","t":"2nd harmonic","x":212,"y":122.9},{"s":"R2","t":"2nd harmonic","x":224,"y":122.8},{"s":"R2","t":"2nd harmonic","x":237,"y":122.7},{"s":"R2","t":"2nd harmonic","x":250,"y":122.6},{"s":"R2","t":"2nd harmonic","x":262,"y":122.4},{"s":"R2","t":"2nd harmonic","x":275,"y":122.3},{"s":"R2","t":"2nd harmonic","x":287,"y":122.2},{"s":"R2","t":"2nd harmonic","x":299,"y":122.0},{"s":"R2","t":"2nd harmonic","x":312,"y":121.8},{"s":"R2","t":"2nd harmonic","x":325,"y":121.7},{"s":"R2","t":"2nd harmonic","x":337,"y":121.5},{"s":"R2","t":"2nd harmonic","x":350,"y":121.4},{"s":"R2","t":"2nd harmonic","x":362,"y":121.3},{"s":"R2","t":"2nd harmonic","x":374,"y":121.1},{"s":"R2","t":"2nd harmonic","x":387,"y":120.9},{"s":"R2","t":"2nd harmonic","x":400,"y":120.8},{"s":"R2","t":"2nd harmonic","x":412,"y":120.6},{"s":"R2","t":"2nd harmonic","x":424,"y":120.5},{"s":"R2","t":"2nd harmonic","x":437,"y":120.3},{"s":"R2","t":"2nd harmonic","x":449,"y":120.15},{"s":"R2","t":"2nd harmonic","x":462,"y":120.0},{"s":"R2","t":"2nd harmonic","x":475,"y":119.7},{"s":"R2","t":"2nd harmonic","x":487,"y":119.5},{"s":"R2","t":"2nd harmonic","x":500,"y":119.4},{"s":"R2","t":"2nd harmonic","x":512,"y":119.2},{"s":"R2","t":"2nd harmonic","x":524,"y":119.1},{"s":"R2","t":"2nd harmonic","x":537,"y":118.9},{"s":"R2","t":"2nd harmonic","x":550,"y":118.8},{"s":"R2","t":"2nd harmonic","x":562,"y":118.6},{"s":"R2","t":"2nd harmonic","x":575,"y":118.5},{"s":"R2","t":"2nd harmonic","x":587,"y":118.4},{"s":"R2","t":"2nd harmonic","x":599,"y":118.3},{"s":"R2","t":"2nd harmonic","x":612,"y":118.1},{"s":"R2","t":"2nd harmonic","x":625,"y":117.9},{"s":"R2","t":"2nd harmonic","x":637,"y":117.8},{"s":"R2","t":"2nd harmonic","x":650,"y":117.7},{"s":"R2","t":"2nd harmonic","x":662,"y":117.6},{"s":"R2","t":"2nd harmonic","x":674,"y":117.5},{"s":"R2","t":"2nd harmonic","x":687,"y":117.3},{"s":"R2","t":"2nd harmonic","x":700,"y":117.2},{"s":"R2","t":"2nd harmonic","x":712,"y":117.1},{"s":"R2","t":"2nd harmonic","x":725,"y":117.0},{"s":"R2","t":"2nd harmonic","x":737,"y":116.9},{"s":"R2","t":"2nd harmonic","x":749,"y":116.8},
      {"s":"R3","t":"3rd harmonic","x":0,"y":128},{"s":"R3","t":"3rd harmonic","x":2,"y":121},{"s":"R3","t":"3rd harmonic","x":4,"y":115.5},{"s":"R3","t":"3rd harmonic","x":6,"y":110.5},{"s":"R3","t":"3rd harmonic","x":8,"y":106},{"s":"R3","t":"3rd harmonic","x":10,"y":101.5},{"s":"R3","t":"3rd harmonic","x":12,"y":97.5},{"s":"R3","t":"3rd harmonic","x":14,"y":94},{"s":"R3","t":"3rd harmonic","x":16,"y":90.5},{"s":"R3","t":"3rd harmonic","x":18,"y":87},{"s":"R3","t":"3rd harmonic","x":20,"y":84},{"s":"R3","t":"3rd harmonic","x":22,"y":81},{"s":"R3","t":"3rd harmonic","x":24,"y":78},{"s":"R3","t":"3rd harmonic","x":26,"y":75},{"s":"R3","t":"3rd harmonic","x":28.8,"y":71.4},{"s":"R3","t":"3rd harmonic","x":31,"y":68.3},{"s":"R3","t":"3rd harmonic","x":34,"y":64.8},{"s":"R3","t":"3rd harmonic","x":38,"y":60.9},{"s":"R3","t":"3rd harmonic","x":42,"y":58.5},{"s":"R3","t":"3rd harmonic","x":46,"y":56.5},{"s":"R3","t":"3rd harmonic","x":50,"y":54.2},{"s":"R3","t":"3rd harmonic","x":54,"y":52.1},{"s":"R3","t":"3rd harmonic","x":58,"y":50.2},{"s":"R3","t":"3rd harmonic","x":62,"y":48.6},{"s":"R3","t":"3rd harmonic","x":66,"y":47.0},{"s":"R3","t":"3rd harmonic","x":69,"y":45.6},{"s":"R3","t":"3rd harmonic","x":74,"y":44.2},{"s":"R3","t":"3rd harmonic","x":78,"y":43.3},{"s":"R3","t":"3rd harmonic","x":82,"y":42.5},{"s":"R3","t":"3rd harmonic","x":87,"y":41.3},{"s":"R3","t":"3rd harmonic","x":92,"y":40.3},{"s":"R3","t":"3rd harmonic","x":98,"y":39.5},{"s":"R3","t":"3rd harmonic","x":105,"y":38.8},{"s":"R3","t":"3rd harmonic","x":112,"y":38.1},{"s":"R3","t":"3rd harmonic","x":119,"y":37.5},{"s":"R3","t":"3rd harmonic","x":127,"y":36.9},{"s":"R3","t":"3rd harmonic","x":135,"y":36.4},{"s":"R3","t":"3rd harmonic","x":142,"y":36.0},{"s":"R3","t":"3rd harmonic","x":149,"y":35.7},{"s":"R3","t":"3rd harmonic","x":160,"y":35.2},{"s":"R3","t":"3rd harmonic","x":171,"y":34.8},{"s":"R3","t":"3rd harmonic","x":185,"y":34.3},{"s":"R3","t":"3rd harmonic","x":200,"y":33.9},{"s":"R3","t":"3rd harmonic","x":212,"y":33.6},{"s":"R3","t":"3rd harmonic","x":224,"y":33.3},{"s":"R3","t":"3rd harmonic","x":240,"y":33.0},{"s":"R3","t":"3rd harmonic","x":260,"y":32.7},{"s":"R3","t":"3rd harmonic","x":280,"y":32.4},{"s":"R3","t":"3rd harmonic","x":299,"y":32.2},{"s":"R3","t":"3rd harmonic","x":325,"y":32.0},{"s":"R3","t":"3rd harmonic","x":350,"y":31.85},{"s":"R3","t":"3rd harmonic","x":374,"y":31.7},{"s":"R3","t":"3rd harmonic","x":400,"y":31.6},{"s":"R3","t":"3rd harmonic","x":424,"y":31.5},{"s":"R3","t":"3rd harmonic","x":449,"y":31.4},{"s":"R3","t":"3rd harmonic","x":475,"y":31.3},{"s":"R3","t":"3rd harmonic","x":500,"y":31.25},{"s":"R3","t":"3rd harmonic","x":524,"y":31.2},{"s":"R3","t":"3rd harmonic","x":550,"y":31.15},{"s":"R3","t":"3rd harmonic","x":575,"y":31.1},{"s":"R3","t":"3rd harmonic","x":599,"y":31.05},{"s":"R3","t":"3rd harmonic","x":637,"y":31.0},{"s":"R3","t":"3rd harmonic","x":674,"y":30.95},{"s":"R3","t":"3rd harmonic","x":712,"y":30.9},{"s":"R3","t":"3rd harmonic","x":749,"y":30.85}
    ]
  },
  "layer": [
    {
      "data": {"name": "curves"},
      "mark": {"type": "line", "strokeWidth": 2.1, "clip": true},
      "encoding": {
        "x": {
          "field": "x", "type": "quantitative", "title": "Number of traces",
          "scale": {"domain": [0, 750], "nice": false, "zero": false},
          "axis": {"values": [0, 150, 300, 450, 600, 750], "format": "d", "labelPadding": 2, "titlePadding": 6}
        },
        "y": {
          "field": "y", "type": "quantitative", "title": "Log2(Key Rank)",
          "scale": {"domain": [28.06, 129.09], "nice": false, "zero": false},
          "axis": {"values": [32, 48, 64, 80, 96, 112, 128], "format": "d", "labelPadding": 6, "titlePadding": 5}
        },
        "detail": {"field": "s", "type": "nominal"},
        "color": {
          "field": "t", "type": "nominal",
          "scale": {
            "domain": ["1st harmonic", "2nd harmonic", "3rd harmonic", "Non-harmonics"],
            "range": ["#ff0000", "#ff0000", "#ff0000", "#000000"]
          },
          "legend": {
            "title": null,
            "orient": "top-right",
            "offset": 21,
            "fillColor": "rgba(255,255,255,0.8)",
            "strokeColor": "#cccccc",
            "cornerRadius": 5,
            "padding": 15,
            "labelFont": "DejaVu Sans",
            "labelFontSize": 42,
            "labelColor": "black",
            "labelLimit": 0,
            "labelOffset": 75,
            "rowPadding": 17,
            "symbolSize": 1936,
            "symbolStrokeWidth": 2.1,
            "encode": {
              "symbols": {
                "update": {
                  "shape": {"signal": "datum.value === '1st harmonic' ? 'M-1,0H2.864M0.932,-0.5L1.432,0.5L0.432,0.5Z' : datum.value === '2nd harmonic' ? 'M-1,0H2.864M1.432,0A0.5,0.5,0,1,1,0.432,0A0.5,0.5,0,1,1,1.432,0Z' : datum.value === '3rd harmonic' ? 'M-1,0H2.864M0.432,-0.5H1.432V0.5H0.432Z' : 'M-1,0H2.864'"},
                  "fill": {"signal": "datum.value === 'Non-harmonics' ? 'transparent' : '#ff0000'"},
                  "stroke": {"signal": "datum.value === 'Non-harmonics' ? '#000000' : '#ff0000'"},
                  "opacity": {"value": 1}
                }
              }
            }
          }
        }
      }
    },
    {
      "data": {"name": "curves"},
      "transform": [
        {"filter": {"field": "s", "equal": "R1"}},
        {"filter": {"field": "x", "oneOf": [0, 74, 149, 224, 299, 374, 449, 524, 599, 674, 749]}}
      ],
      "mark": {"type": "point", "shape": "M0,-1L1,1L-1,1Z", "filled": true, "size": 484, "color": "#ff0000", "opacity": 1, "clip": true},
      "encoding": {
        "x": {"field": "x", "type": "quantitative", "title": "Number of traces"},
        "y": {"field": "y", "type": "quantitative", "title": "Log2(Key Rank)"}
      }
    },
    {
      "data": {"name": "curves"},
      "transform": [
        {"filter": {"field": "s", "equal": "R2"}},
        {"filter": {"field": "x", "oneOf": [0, 74, 149, 224, 299, 374, 449, 524, 599, 674, 749]}}
      ],
      "mark": {"type": "point", "shape": "circle", "filled": true, "size": 484, "color": "#ff0000", "opacity": 1, "clip": true},
      "encoding": {
        "x": {"field": "x", "type": "quantitative", "title": "Number of traces"},
        "y": {"field": "y", "type": "quantitative", "title": "Log2(Key Rank)"}
      }
    },
    {
      "data": {"name": "curves"},
      "transform": [
        {"filter": {"field": "s", "equal": "R3"}},
        {"filter": {"field": "x", "oneOf": [0, 74, 149, 224, 299, 374, 449, 524, 599, 674, 749]}}
      ],
      "mark": {"type": "point", "shape": "square", "filled": true, "size": 484, "color": "#ff0000", "opacity": 1, "clip": true},
      "encoding": {
        "x": {"field": "x", "type": "quantitative", "title": "Number of traces"},
        "y": {"field": "y", "type": "quantitative", "title": "Log2(Key Rank)"}
      }
    },
    {
      "data": {"name": "levels"},
      "mark": {"type": "rule", "strokeWidth": 5.5, "strokeDash": [20.6, 8.9]},
      "encoding": {
        "y": {"field": "y", "type": "quantitative", "title": "Log2(Key Rank)"},
        "stroke": {
          "field": "k", "type": "nominal", "legend": null,
          "scale": {"domain": ["upper", "middle", "lower"], "range": ["#bf00bf", "#0000ff", "#008000"]}
        }
      }
    }
  ]
}
